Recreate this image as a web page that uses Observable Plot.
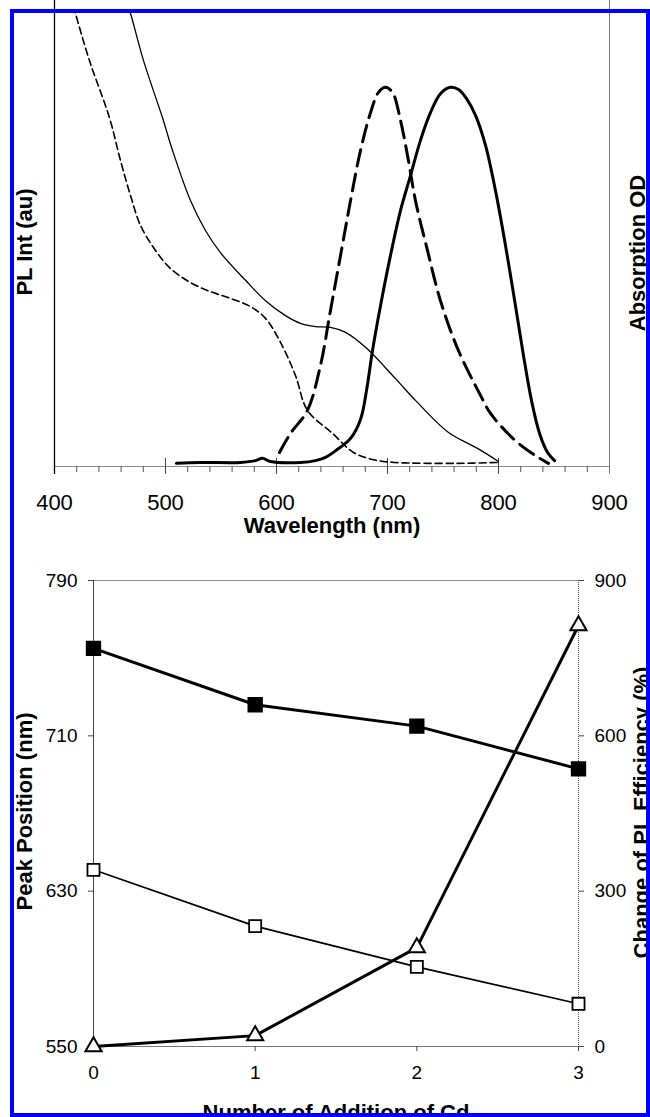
<!DOCTYPE html>
<html><head><meta charset="utf-8">
<script src="https://cdn.jsdelivr.net/npm/d3@7"></script>
<script src="https://cdn.jsdelivr.net/npm/@observablehq/plot@0.6"></script>
<style>
html,body{margin:0;padding:0;background:#fff;}
#wrap{position:relative;width:650px;height:1117px;overflow:hidden;font-family:"Liberation Sans",Arial,sans-serif;}
#top{position:absolute;left:0;top:0;}
#bottom{position:absolute;left:0;top:545px;}
#border{position:absolute;left:10px;top:9px;width:640px;height:1108px;box-sizing:border-box;border:4px solid #0000ff;pointer-events:none;z-index:5;}
</style></head>
<body><div id="wrap"><div id="top"></div><div id="bottom"></div><div id="border"></div></div>
<script>
// ---------- Top panel: spectra [wavelength (nm), relative intensity] ----------
const absorptionA = [[463.1,1.040],[468.5,1.000],[480.2,0.896],[497.3,0.770],[506.3,0.698],[522.5,0.587],[536.0,0.521],[549.5,0.472],[572.1,0.411],[590.1,0.366],[608.1,0.333],[621.6,0.316],[635.1,0.309],[648.6,0.307],[662.2,0.296],[680.2,0.263],[707.2,0.194],[725.2,0.146],[755.0,0.075],[781.1,0.040],[800,0.011]];
const absorptionB = [[414.4,1.040],[418.9,1.000],[431.5,0.896],[449.5,0.770],[459.5,0.675],[468.5,0.598],[477.5,0.532],[491.0,0.477],[504.5,0.437],[522.5,0.406],[540.5,0.386],[558.6,0.371],[576.6,0.353],[590.1,0.327],[603.6,0.274],[617.1,0.201],[627.9,0.124],[650.5,0.073],[669.4,0.031],[687.4,0.015],[706.3,0.009],[762.2,0.007],[800,0.009]];
const emissionB = [[602.7,0.031],[612.6,0.073],[627.9,0.124],[639.6,0.223],[648.6,0.344],[657.7,0.466],[666.7,0.587],[675.7,0.698],[684.7,0.781],[691.9,0.826],[698.2,0.837],[704.5,0.826],[711.7,0.764],[718.9,0.675],[725.2,0.587],[736.0,0.477],[747.7,0.366],[763.9,0.256],[783.8,0.157],[792.8,0.117],[815.3,0.057],[833.3,0.024],[845.0,0.007]];
const emissionA = [[509.9,0.007],[531.5,0.009],[567.6,0.009],[581.1,0.013],[587.4,0.018],[594.6,0.011],[621.6,0.009],[635.1,0.013],[644.1,0.020],[655.0,0.038],[666.7,0.062],[675.7,0.104],[681.1,0.168],[686.5,0.256],[693.7,0.355],[702.7,0.466],[711.7,0.565],[720.7,0.642],[729.7,0.720],[738.7,0.781],[747.7,0.823],[756.8,0.837],[764.0,0.832],[771.2,0.812],[779.3,0.775],[788.3,0.709],[797.3,0.609],[806.3,0.488],[815.3,0.355],[822.5,0.245],[829.7,0.146],[837.0,0.073],[844.2,0.031],[850.5,0.013]];
const wlTicks = [400, 500, 600, 700, 800, 900];
const wlMajor = [500, 600, 700, 800];
const wlMinor = d3.range(420, 900, 20);

// ---------- Bottom panel ----------
const additions = [0, 1, 2, 3];
const plPeak = [755, 726, 715, 693];
const absPeak = [641, 612, 591, 572];
const plEffChange = [0, 21, 191, 813];
const peakTicks = [550, 630, 710, 790];
const effTicks = [0, 300, 600, 900];

const font = "'Liberation Sans', Arial, sans-serif";
const px = d => d[0], py = d => d[1];

const topChart = Plot.plot({
  width: 650, height: 545,
  marginLeft: 54, marginRight: 41, marginTop: 13, marginBottom: 79,
  style: {fontFamily: font, background: "transparent", color: "#000"},
  x: {domain: [400, 900]},
  y: {domain: [0, 1], axis: null},
  marks: [
    Plot.ruleY([0], {stroke: "#8c8c8c", strokeWidth: 1.2}),
    Plot.axisX({ticks: wlMinor, tickSize: 6, tickFormat: () => "", stroke: "#555", label: null}),
    Plot.ruleX(wlMajor, {x: d => d, y1: 0, y2: 0, insetTop: -8, insetBottom: -8, stroke: "#444"}),
    Plot.ruleX([900], {stroke: "#777", insetTop: -13, insetBottom: -8}),
    Plot.ruleX([400], {stroke: "#000", strokeWidth: 1.3, insetTop: -13, insetBottom: -8}),
    Plot.axisX({ticks: wlTicks, tickSize: 0, tickPadding: 28, fontSize: 22, label: null}),
    Plot.line(absorptionA, {x: px, y: py, stroke: "#000", strokeWidth: 1.3, curve: "catmull-rom", clip: true}),
    Plot.line(absorptionB, {x: px, y: py, stroke: "#000", strokeWidth: 1.6, strokeDasharray: "7,4", curve: "catmull-rom", clip: true}),
    Plot.line(emissionB, {x: px, y: py, stroke: "#000", strokeWidth: 3, strokeDasharray: "17,8", curve: "catmull-rom", clip: true}),
    Plot.line(emissionA, {x: px, y: py, stroke: "#000", strokeWidth: 3, curve: "catmull-rom", clip: true}),
    Plot.text(["Wavelength (nm)"], {text: d => d, frameAnchor: "bottom", textAnchor: "middle", dy: 66, fontSize: 22, fontWeight: "bold"}),
    Plot.text(["PL Int (au)"], {text: d => d, frameAnchor: "left", textAnchor: "middle", rotate: -90, dx: -30, dy: 2, fontSize: 22, fontWeight: "bold"}),
    Plot.text(["Absorption OD"], {text: d => d, frameAnchor: "right", textAnchor: "middle", rotate: -90, dx: 28, dy: 13, fontSize: 22, fontWeight: "bold"})
  ]
});
document.getElementById("top").appendChild(topChart);

const effToLeft = v => 550 + v * (790 - 550) / 900;
const rows = additions.map((n, i) => ({n, pl: plPeak[i], abs: absPeak[i], eff: effToLeft(plEffChange[i])}));

const bottomChart = Plot.plot({
  width: 650, height: 572,
  marginLeft: 93, marginRight: 72, marginTop: 35, marginBottom: 71,
  style: {fontFamily: font, background: "transparent", color: "#000"},
  x: {domain: [0, 3]},
  y: {domain: [550, 790]},
  marks: [
    Plot.ruleY([790], {stroke: "#8c8c8c"}),
    Plot.ruleY([550], {stroke: "#777"}),
    Plot.ruleX([0], {stroke: "#444"}),
    Plot.ruleX([3], {stroke: "#555", strokeDasharray: "1,1"}),
    Plot.axisY({anchor: "left", ticks: peakTicks, tickSize: 5, tickPadding: 11, fontSize: 19, label: null, stroke: "#444"}),
    Plot.axisY({anchor: "right", ticks: effTicks.map(effToLeft), tickFormat: d => Math.round((d - 550) * 900 / 240), tickSize: 5, tickPadding: 11, fontSize: 19, label: null, stroke: "#444"}),
    Plot.axisX({ticks: additions, tickFormat: d3.format("d"), tickSize: 5, tickPadding: 14, fontSize: 19, label: null, stroke: "#444"}),
    Plot.line(rows, {x: "n", y: "abs", stroke: "#000", strokeWidth: 1.7}),
    Plot.line(rows, {x: "n", y: "pl", stroke: "#000", strokeWidth: 3}),
    Plot.line(rows, {x: "n", y: "eff", stroke: "#000", strokeWidth: 3}),
    Plot.dot(rows, {x: "n", y: "abs", symbol: "square", r: 6.8, fill: "#fff", stroke: "#000", strokeWidth: 1.8}),
    Plot.dot(rows, {x: "n", y: "pl", symbol: "square", r: 7.8, fill: "#000", stroke: "#000"}),
    Plot.dot(rows, {x: "n", y: "eff", symbol: "triangle", r: 6, fill: "#fff", stroke: "#000", strokeWidth: 2}),
    Plot.text(["Peak Position (nm)"], {text: d => d, frameAnchor: "left", textAnchor: "middle", rotate: -90, dx: -69, dy: -2, fontSize: 22, fontWeight: "bold"}),
    Plot.text(["Change of PL Efficiency (%)"], {text: d => d, frameAnchor: "right", textAnchor: "middle", rotate: -90, dx: 63, dy: -1, fontSize: 22, fontWeight: "bold"}),
    Plot.text(["Number of Addition of Cd"], {text: d => d, frameAnchor: "bottom", textAnchor: "middle", dy: 73, fontSize: 22, fontWeight: "bold"})
  ]
});
document.getElementById("bottom").appendChild(bottomChart);
</script>
</body></html>
